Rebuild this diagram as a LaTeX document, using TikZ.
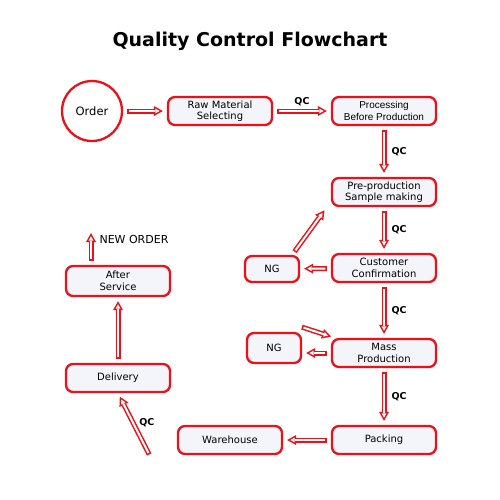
\documentclass[tikz,border=0pt]{standalone}
\usepackage{fontspec}
\setmainfont{DejaVu Sans}
\newfontfamily\arialfont{Liberation Sans}
\usepackage{tikz}
\usetikzlibrary{arrows.meta, positioning}
\definecolor{qcred}{RGB}{236,16,24}
\definecolor{boxfill}{RGB}{244,245,250}
\tikzset{
  stepbox/.style={draw=qcred, line width=2.3pt, rounded corners=7pt, fill=boxfill,
    minimum width=104pt, minimum height=28pt, align=center, inner sep=1pt,
    font=\fontsize{10}{11.5}\selectfont},
  ngbox/.style={stepbox, minimum width=54pt},
  hollow/.style={draw=qcred, line width=5pt,
    -{Triangle[length=9pt, width=10pt, line width=0pt]}, shorten <=4pt, shorten >=4pt,
    postaction={draw=white, line width=2pt, shorten <=5.5pt, shorten >=7.2pt,
      -{Triangle[length=4.3pt, width=4.8pt, line width=0pt]}}},
  qc/.style={font=\bfseries\fontsize{9.5}{10}\selectfont, inner sep=1pt}
}
\begin{document}
\begin{tikzpicture}[x=1pt, y=-1pt]
    \useasboundingbox (0,0) rectangle (500,499);
    \node[font=\bfseries\fontsize{19}{22}\selectfont] (title) at (250,41) {Quality Control Flowchart};

    \node[circle, draw=qcred, line width=2.3pt, fill=white, minimum size=60pt,
          font=\fontsize{11.5}{13}\selectfont] (order) at (92,111) {Order};
    \node[stepbox] (raw) at (220,111) {Raw Material\\Selecting};
    \node[stepbox, font=\arialfont\fontsize{10}{11.5}\selectfont] (proc) at (384,111) {Processing\\Before Production};
    \node[stepbox] (pre) at (384,192) {Pre-production\\Sample making};
    \node[stepbox] (cust) at (384,268) {Customer\\Confirmation};
    \node[ngbox, minimum height=26pt] (ngA) at (272,269) {NG};
    \node[stepbox] (mass) at (384,353) {Mass\\Production};
    \node[ngbox, minimum height=30pt] (ngB) at (274,348) {NG};
    \node[stepbox] (pack) at (384,440) {Packing};
    \node[stepbox] (ware) at (230,440) {Warehouse};
    \node[stepbox] (deliv) at (118,378) {Delivery};
    \node[stepbox, minimum height=30pt] (after) at (118,281) {After\\Service};

    \coordinate (wout) at (151,458);
    \coordinate (neworder) at (91,229);
    \node[right, font=\fontsize{11}{13}\selectfont] (nwlabel) at (96,239) {NEW ORDER};

    % main line
    \draw[hollow] (order) -- (raw);
    \draw[hollow] (raw) -- node[qc, above=2pt] {QC} (proc);
    \draw[hollow] (proc) -- node[qc, right=4pt] {QC} (pre);
    \draw[hollow] (pre) -- node[qc, right=4pt] {QC} (cust);
    \draw[hollow] (cust) -- (ngA);
    \draw[hollow] ([xshift=-8pt]ngA.north east) -- ([xshift=-4pt]pre.south west);
    \draw[hollow] (cust) -- node[qc, right=4pt] {QC} (mass);
    \draw[hollow] (mass.west) -- (mass.west -| ngB.east);
    \draw[hollow] ([shift={(-4pt,6pt)}]ngB.north east) -- ([xshift=4pt]mass.north west);
    \draw[hollow] (mass) -- node[qc, right=4pt] {QC} (pack);
    \draw[hollow] (pack) -- (ware);
    \draw[hollow] (wout) -- node[qc, right=3pt, pos=0.55] {QC} (deliv.south);
    \draw[hollow] (deliv) -- (after);
    \draw[hollow] ([xshift=-27pt]after.north) -- (neworder);
\end{tikzpicture}
\end{document}
